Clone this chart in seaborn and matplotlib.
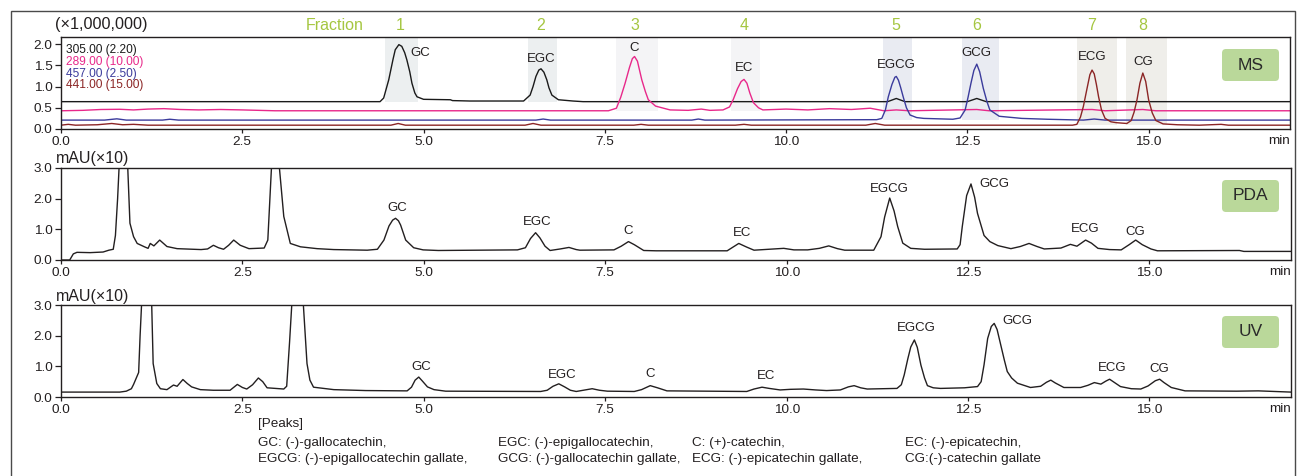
import matplotlib
matplotlib.use("Agg")
import matplotlib.pyplot as plt
import seaborn as sns
from matplotlib.patches import Rectangle, FancyBboxPatch
from matplotlib.transforms import IdentityTransform, blended_transform_factory

# ---------------- data ----------------
peak_names = ["GC", "EGC", "C", "EC", "EGCG", "GCG", "ECG", "CG"]

# MS, retention time (min) / intensity (x1,000,000)
ms_peak_rt = [4.68, 6.62, 7.91, 9.42, 11.52, 12.63, 14.22, 14.92]
ms_peak_h = [1.99, 1.42, 1.71, 1.17, 1.24, 1.53, 1.39, 1.32]

fraction_ids = ["1", "2", "3", "4", "5", "6", "7", "8"]
fraction_start = [4.47, 6.44, 7.66, 9.24, 11.33, 12.42, 14.01, 14.69]
fraction_end = [4.92, 6.84, 8.23, 9.64, 11.73, 12.94, 14.57, 15.25]

ms_channels = ["305.00 (2.20)", "289.00 (10.00)", "457.00 (2.50)", "441.00 (15.00)"]

ms305_t = [0.00, 4.40, 4.45, 4.52, 4.58, 4.61, 4.66, 4.70, 4.74, 4.77, 4.81, 4.84, 4.88, 4.91,
           5.00, 5.37, 5.40, 5.64, 6.38, 6.47, 6.51, 6.55, 6.59, 6.62, 6.66, 6.70, 6.73, 6.77,
           6.86, 7.06, 7.20, 11.40, 11.52, 11.64, 12.50, 12.63, 12.76, 16.95]
ms305_v = [0.645, 0.645, 0.73, 1.16, 1.65, 1.87, 1.99, 1.95, 1.80, 1.63, 1.35, 1.08, 0.85, 0.76,
           0.70, 0.69, 0.67, 0.66, 0.66, 0.80, 1.00, 1.24, 1.39, 1.42, 1.34, 1.16, 0.97, 0.80,
           0.69, 0.66, 0.645, 0.645, 0.72, 0.645, 0.645, 0.72, 0.645, 0.645]

ms289_t = [0.00, 0.30, 0.55, 0.81, 1.00, 1.20, 1.42, 1.65, 1.90, 2.20, 2.50, 2.95, 7.55, 7.66,
           7.72, 7.78, 7.84, 7.88, 7.91, 7.95, 8.01, 8.06, 8.10, 8.20, 8.40, 8.65, 8.83, 8.95,
           9.13, 9.22, 9.27, 9.33, 9.38, 9.42, 9.46, 9.50, 9.55, 9.62, 9.68, 10.00, 10.30, 10.60,
           10.90, 11.16, 11.35, 11.52, 11.70, 12.63, 12.80, 14.22, 14.40, 14.92, 15.10, 16.95]
ms289_v = [0.43, 0.44, 0.46, 0.465, 0.45, 0.47, 0.48, 0.46, 0.45, 0.46, 0.45, 0.43, 0.43, 0.49,
           0.75, 1.08, 1.45, 1.66, 1.71, 1.60, 1.16, 0.88, 0.69, 0.54, 0.45, 0.44, 0.47, 0.44,
           0.45, 0.52, 0.69, 0.95, 1.12, 1.17, 1.08, 0.85, 0.62, 0.50, 0.45, 0.47, 0.45, 0.48,
           0.46, 0.49, 0.43, 0.45, 0.43, 0.46, 0.43, 0.46, 0.43, 0.46, 0.43, 0.43]

ms457_t = [0.00, 0.60, 0.77, 0.90, 1.40, 1.50, 1.62, 6.55, 6.65, 6.75, 8.70, 8.79, 8.88, 11.25,
           11.32, 11.37, 11.41, 11.46, 11.50, 11.52, 11.55, 11.58, 11.62, 11.66, 11.71, 11.80,
           11.90, 12.30, 12.40, 12.47, 12.51, 12.55, 12.59, 12.63, 12.67, 12.72, 12.77, 12.81,
           12.94, 13.25, 13.60, 14.10, 14.25, 14.40, 16.95]
ms457_v = [0.21, 0.21, 0.24, 0.21, 0.21, 0.23, 0.21, 0.21, 0.235, 0.21, 0.21, 0.235, 0.21, 0.22,
           0.25, 0.45, 0.76, 1.05, 1.22, 1.24, 1.15, 0.98, 0.73, 0.50, 0.33, 0.27,
           0.25, 0.23, 0.26, 0.45, 0.75, 1.08, 1.38, 1.53, 1.35, 0.96, 0.65, 0.45,
           0.30, 0.25, 0.23, 0.21, 0.235, 0.21, 0.21]

ms441_t = [0.00, 0.10, 0.20, 0.50, 0.70, 0.85, 1.00, 1.20, 4.55, 4.65, 4.75, 6.40, 6.51, 6.62,
           7.90, 8.00, 8.10, 9.30, 9.42, 9.52, 11.10, 11.23, 11.36, 13.95, 14.01, 14.06, 14.10,
           14.15, 14.19, 14.22, 14.25, 14.28, 14.31, 14.35, 14.40, 14.48, 14.55, 14.70, 14.76,
           14.80, 14.84, 14.88, 14.92, 14.96, 15.00, 15.05, 15.10, 15.20, 15.40, 15.70, 16.00,
           16.10, 16.95]
ms441_v = [0.09, 0.11, 0.09, 0.10, 0.13, 0.10, 0.11, 0.09, 0.09, 0.13, 0.09, 0.09, 0.13, 0.09,
           0.09, 0.11, 0.09, 0.09, 0.11, 0.09, 0.09, 0.13, 0.09, 0.09, 0.11, 0.28, 0.53,
           0.95, 1.28, 1.39, 1.30, 1.05, 0.76, 0.45, 0.25, 0.17, 0.15, 0.13, 0.20,
           0.40, 0.69, 1.08, 1.32, 1.12, 0.69, 0.38, 0.20, 0.12, 0.10, 0.09, 0.11,
           0.09, 0.09]

# PDA, mAU (x10)
pda_peak_rt = [4.61, 6.54, 7.82, 9.34, 11.42, 12.54, 14.12, 14.81]
pda_peak_h = [1.36, 0.89, 0.60, 0.54, 2.02, 2.48, 0.65, 0.65]
pda_t = [0.00, 0.12, 0.17, 0.22, 0.40, 0.58, 0.66, 0.72, 0.75, 0.78, 0.80, 0.83, 0.86, 0.89,
         0.92, 0.95, 1.00, 1.05, 1.15, 1.20, 1.23, 1.28, 1.36, 1.46, 1.60, 1.93, 2.02, 2.10,
         2.17, 2.24, 2.31, 2.38, 2.47, 2.59, 2.80, 2.85, 2.90, 2.93, 2.96, 2.99, 3.01, 3.07,
         3.16, 3.30, 3.53, 3.76, 4.22, 4.36, 4.45, 4.52, 4.57, 4.61, 4.65, 4.68, 4.75, 4.86,
         4.99, 5.20, 6.29, 6.40, 6.47, 6.54, 6.60, 6.67, 6.74, 6.88, 7.00, 7.10, 7.15, 7.62,
         7.72, 7.82, 7.90, 8.03, 8.20, 9.18, 9.26, 9.34, 9.45, 9.55, 9.75, 9.96, 10.10, 10.29,
         10.45, 10.58, 10.70, 10.80, 11.20, 11.30, 11.35, 11.42, 11.48, 11.53, 11.60, 11.71,
         11.90, 12.35, 12.39, 12.42, 12.48, 12.54, 12.59, 12.63, 12.72, 12.80, 12.91, 13.09,
         13.22, 13.34, 13.45, 13.55, 13.78, 13.91, 14.00, 14.12, 14.20, 14.29, 14.45, 14.61,
         14.72, 14.81, 14.90, 15.02, 15.11, 16.24, 16.30, 16.95]
pda_v = [0.00, 0.00, 0.20, 0.25, 0.24, 0.26, 0.32, 0.35, 0.80, 2.00, 3.00, 4.60, 5.00, 4.60,
         3.00, 1.20, 0.76, 0.54, 0.43, 0.38, 0.54, 0.46, 0.65, 0.44, 0.37, 0.34, 0.36, 0.48,
         0.40, 0.35, 0.48, 0.65, 0.48, 0.37, 0.39, 0.65, 3.00, 4.60, 5.00, 4.60, 3.00, 1.42,
         0.54, 0.43, 0.37, 0.34, 0.32, 0.35, 0.65, 1.11, 1.30, 1.36, 1.28, 1.14, 0.65, 0.40,
         0.33, 0.31, 0.33, 0.40, 0.70, 0.89, 0.72, 0.45, 0.31, 0.36, 0.41, 0.34, 0.32, 0.33,
         0.45, 0.60, 0.50, 0.31, 0.30, 0.30, 0.42, 0.54, 0.42, 0.32, 0.35, 0.38, 0.33, 0.33,
         0.38, 0.46, 0.37, 0.32, 0.32, 0.76, 1.40, 2.02, 1.60, 1.09, 0.55, 0.38,
         0.35, 0.36, 0.50, 1.09, 2.10, 2.48, 2.05, 1.52, 0.80, 0.60, 0.47, 0.37,
         0.44, 0.54, 0.44, 0.36, 0.39, 0.51, 0.45, 0.65, 0.55, 0.38, 0.34, 0.33,
         0.50, 0.65, 0.50, 0.36, 0.30, 0.31, 0.28, 0.28]

# UV, mAU (x10)
uv_peak_rt = [4.93, 6.86, 8.12, 9.66, 11.76, 12.86, 14.45, 15.14]
uv_peak_h = [0.66, 0.43, 0.37, 0.32, 1.86, 2.40, 0.58, 0.58]
uv_t = [0.00, 0.81, 0.90, 0.97, 1.00, 1.07, 1.09, 1.11, 1.15, 1.18, 1.22, 1.25, 1.27, 1.32,
        1.37, 1.46, 1.55, 1.60, 1.68, 1.74, 1.80, 1.92, 2.10, 2.33, 2.43, 2.50, 2.56, 2.64,
        2.72, 2.78, 2.84, 3.07, 3.11, 3.15, 3.18, 3.22, 3.26, 3.30, 3.34, 3.39, 3.43, 3.48,
        3.76, 4.20, 4.77, 4.83, 4.88, 4.93, 4.98, 5.05, 5.14, 5.30, 6.61, 6.70, 6.78, 6.86,
        6.94, 7.02, 7.10, 7.22, 7.32, 7.42, 7.53, 7.90, 8.00, 8.12, 8.22, 8.35, 9.45, 9.55,
        9.66, 9.76, 9.91, 10.05, 10.23, 10.40, 10.55, 10.74, 10.85, 10.93, 11.02, 11.11, 11.52,
        11.58, 11.62, 11.67, 11.71, 11.76, 11.80, 11.85, 11.90, 11.94, 12.02, 12.12, 12.45,
        12.63, 12.68, 12.72, 12.77, 12.82, 12.86, 12.90, 12.95, 13.00, 13.04, 13.10, 13.18,
        13.36, 13.50, 13.58, 13.64, 13.70, 13.82, 14.05, 14.15, 14.24, 14.33, 14.40, 14.45,
        14.52, 14.60, 14.75, 14.88, 14.98, 15.08, 15.14, 15.20, 15.30, 15.49, 16.20, 16.50,
        16.95]
uv_v = [0.16, 0.16, 0.19, 0.27, 0.41, 0.80, 2.00, 3.00, 4.60, 5.00, 4.60, 3.00, 1.09, 0.44,
        0.27, 0.24, 0.39, 0.35, 0.57, 0.44, 0.33, 0.24, 0.22, 0.22, 0.41, 0.31, 0.26, 0.40,
        0.62, 0.50, 0.30, 0.26, 0.35, 1.80, 3.00, 4.60, 5.00, 4.60, 3.00, 1.09, 0.55, 0.32,
        0.24, 0.21, 0.20, 0.32, 0.55, 0.65, 0.52, 0.33, 0.24, 0.19, 0.18, 0.22, 0.35, 0.43,
        0.33, 0.22, 0.18, 0.23, 0.27, 0.22, 0.19, 0.18, 0.24, 0.37, 0.30, 0.20, 0.18, 0.26,
        0.32, 0.28, 0.23, 0.25, 0.26, 0.23, 0.21, 0.23, 0.33, 0.37, 0.30, 0.26, 0.28,
        0.40, 0.72, 1.25, 1.63, 1.86, 1.62, 1.04, 0.62, 0.37, 0.30, 0.28, 0.30,
        0.34, 0.50, 1.05, 1.91, 2.30, 2.40, 2.20, 1.70, 1.20, 0.83, 0.62, 0.45,
        0.31, 0.35, 0.48, 0.55, 0.46, 0.31, 0.31, 0.38, 0.47, 0.42, 0.52, 0.58,
        0.47, 0.34, 0.27, 0.26, 0.36, 0.53, 0.58, 0.47, 0.31, 0.20, 0.19, 0.20,
        0.16]

peaks_note = [
    ["GC: (-)-gallocatechin,", "EGC: (-)-epigallocatechin,", "C: (+)-catechin,", "EC: (-)-epicatechin,"],
    ["EGCG: (-)-epigallocatechin gallate,", "GCG: (-)-gallocatechin gallate,",
     "ECG: (-)-epicatechin gallate,", "CG:(-)-catechin gallate"],
]

# ---------------- style / layout ----------------
sns.set_style("ticks")
plt.rcParams['font.family'] = ['Liberation Sans', 'DejaVu Sans']
INK = "#231f20"
GREEN_TXT = "#a5c640"
BOX_GREEN = "#bad89a"
ms_colors = ["#1a1a1a", "#e8288a", "#3b3b9c", "#8b2525"]
band_colors = ["#eceff0", "#eceff0", "#f4f4f6", "#f4f4f6", "#e9ebf2", "#e9ebf2", "#efeeea", "#efeeea"]
band_floor = [0.645, 0.645, 0.43, 0.43, 0.21, 0.21, 0.095, 0.095]

ms_lab_dx = [0.27, 0, 0, 0, 0, 0, 0, 0]
ms_lab_dy = [-0.19, 0.23, 0.21, 0.28, 0.27, 0.26, 0.31, 0.27]
pda_lab_dx = [0.02, 0.02, 0, 0.04, 0, 0.32, 0, 0]
pda_lab_dy = [0.35, 0.36, 0.35, 0.33, 0.30, 0.0, 0.35, 0.27]
uv_lab_dx = [0.03, 0.05, 0, 0.06, 0.03, 0.32, 0.03, 0]
uv_lab_dy = [0.33, 0.29, 0.37, 0.38, 0.40, 0.08, 0.38, 0.33]

W, H = 1303, 476
XMAX = 16.95
fig = plt.figure(figsize=(W / 100, H / 100), dpi=100)


def add_panel(top, bottom, right):
    return fig.add_axes([61 / W, 1 - bottom / H, (right - 61) / W, (bottom - top) / H])


def style_axes(ax, ymax, yticks):
    ax.set_xlim(0, XMAX)
    ax.set_ylim(0, ymax)
    ax.set_xticks([0, 2.5, 5, 7.5, 10, 12.5, 15])
    ax.set_xticklabels(["0.0", "2.5", "5.0", "7.5", "10.0", "12.5", "15.0"])
    ax.set_yticks(yticks)
    ax.set_yticklabels([f"{v:.1f}" for v in yticks])
    ax.set_xlabel("")
    ax.set_ylabel("")
    for s in ax.spines.values():
        s.set_visible(True)
        s.set_linewidth(1.0)
        s.set_color(INK)
    ax.tick_params(axis="x", direction="out", length=3, width=0.9, pad=2,
                   labelsize=9.7, colors=INK)
    ax.tick_params(axis="y", direction="out", length=4.5, width=0.9, pad=1.5,
                   labelsize=9.7, colors=INK)
    ax.annotate("min", xy=(1, 0), xycoords="axes fraction", xytext=(0, -6),
                textcoords="offset pixels", ha="right", va="top", fontsize=9.7, color=INK)


def tag_box(text, x0, y_top, w=57, h=32):
    box = FancyBboxPatch((x0, H - y_top - h), w, h, boxstyle="round,pad=0,rounding_size=4",
                         transform=IdentityTransform(), fc=BOX_GREEN, ec="none")
    fig.patches.append(box)
    fig.text((x0 + w / 2) / W, 1 - (y_top + h / 2) / H, text, ha="center", va="center",
             fontsize=12.5, color="#2a2a2a")


def peak_labels(ax, rts, hs, dxs, dys):
    for name, rt, h, dx, dy in zip(peak_names, rts, hs, dxs, dys):
        ax.text(rt + dx, h + dy, name, ha="center", va="center", fontsize=9.5, color=INK)


# ---- MS panel ----
ax1 = add_panel(37, 129, 1290)
for s, e, c, f in zip(fraction_start, fraction_end, band_colors, band_floor):
    ax1.fill_between([s, e], [f, f], [2.17, 2.17], color=c, lw=0, zorder=0)
for t, v, c in zip([ms305_t, ms289_t, ms457_t, ms441_t], [ms305_v, ms289_v, ms457_v, ms441_v], ms_colors):
    sns.lineplot(x=t, y=v, ax=ax1, color=c, linewidth=1.0, sort=False, estimator=None)
style_axes(ax1, 2.17, [0.0, 0.5, 1.0, 1.5, 2.0])
peak_labels(ax1, ms_peak_rt, ms_peak_h, ms_lab_dx, ms_lab_dy)
for i, (lab, c) in enumerate(zip(ms_channels, ms_colors)):
    ax1.annotate(lab, xy=(0, 1), xycoords="axes fraction", xytext=(5, -13 - 11.8 * i),
                 textcoords="offset pixels", ha="left", va="center", fontsize=8.6, color=c)
trans = blended_transform_factory(ax1.transData, fig.transFigure)
for fid, rt in zip(fraction_ids, ms_peak_rt):
    ax1.text(rt, 1 - 25 / H, fid, transform=trans, ha="center", va="center",
             fontsize=11.5, color=GREEN_TXT)
fig.text(335 / W, 1 - 25 / H, "Fraction", ha="center", va="center", fontsize=11.5, color=GREEN_TXT)
fig.text(55 / W, 1 - 25 / H, "(×1,000,000)", ha="left", va="center", fontsize=11.7, color=INK)
tag_box("MS", 1222, 49)

# ---- PDA panel ----
ax2 = add_panel(168, 260, 1291)
sns.lineplot(x=pda_t, y=pda_v, ax=ax2, color=INK, linewidth=1.0, sort=False, estimator=None)
style_axes(ax2, 3.0, [0.0, 1.0, 2.0, 3.0])
peak_labels(ax2, pda_peak_rt, pda_peak_h, pda_lab_dx, pda_lab_dy)
fig.text(56 / W, 1 - 159 / H, "mAU(×10)", ha="left", va="center", fontsize=11.5, color=INK)
tag_box("PDA", 1222, 180)

# ---- UV panel ----
ax3 = add_panel(305, 397, 1291)
sns.lineplot(x=uv_t, y=uv_v, ax=ax3, color=INK, linewidth=1.0, sort=False, estimator=None)
style_axes(ax3, 3.0, [0.0, 1.0, 2.0, 3.0])
peak_labels(ax3, uv_peak_rt, uv_peak_h, uv_lab_dx, uv_lab_dy)
fig.text(56 / W, 1 - 296 / H, "mAU(×10)", ha="left", va="center", fontsize=11.5, color=INK)
tag_box("UV", 1222, 316)

# ---- footnote ----
fig.text(258 / W, 1 - 424 / H, "[Peaks]", ha="left", va="center", fontsize=9.7, color=INK)
col_x = [258, 498, 692, 905]
for row, y in zip(peaks_note, [443, 459]):
    for txt, x in zip(row, col_x):
        fig.text(x / W, 1 - y / H, txt, ha="left", va="center", fontsize=9.7, color=INK)

# outer frame
fig.patches.append(Rectangle((11, -20), 1284, H - 11 + 20, transform=IdentityTransform(),
                             fill=False, ec="#4a4a4a", lw=1.0))

fig.savefig("out.png", dpi=100)
